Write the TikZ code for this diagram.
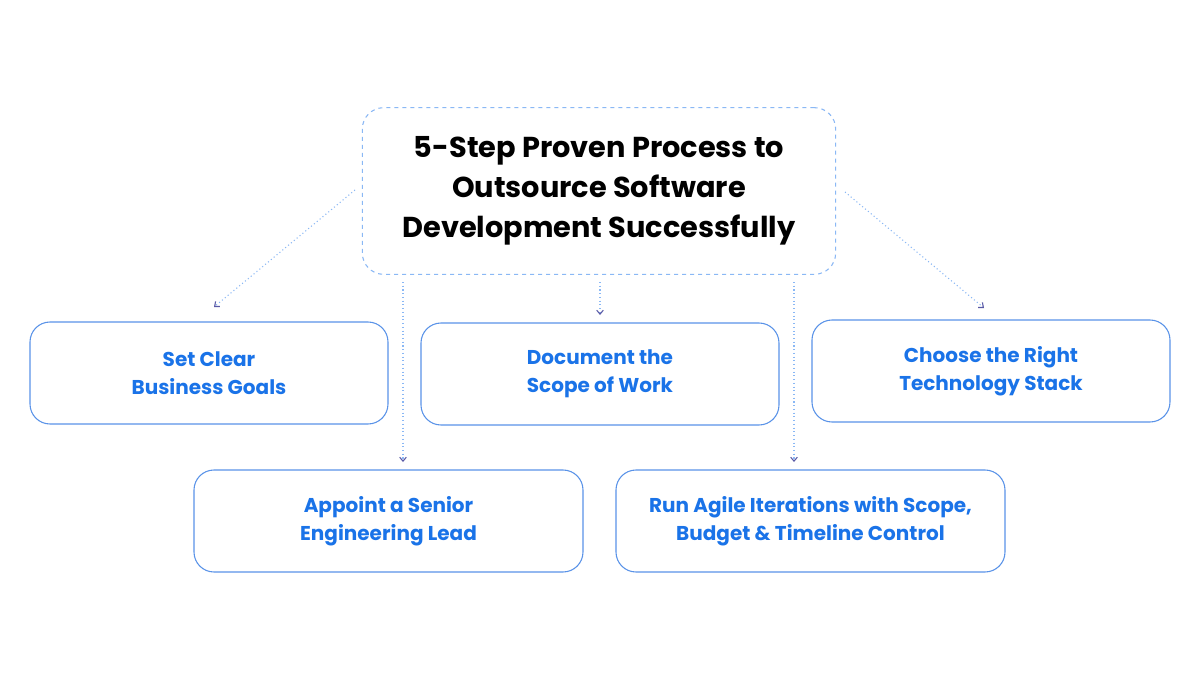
\documentclass[tikz,border=0pt]{standalone}
\usepackage{fontspec}
\setmainfont{Poppins}
\usetikzlibrary{arrows.meta}
\definecolor{tblue}{HTML}{1A73E8}
\definecolor{lblue}{HTML}{8AB8F5}
\definecolor{dblue}{HTML}{5A93E8}
\begin{document}
\begin{tikzpicture}[x=0.75pt,y=-0.75pt,
  stepbox/.style={draw=dblue,line width=0.8pt,rounded corners=15pt,minimum width=268.5pt,minimum height=76.5pt,align=center,text=tblue,font=\bfseries\fontsize{15}{21}\selectfont},
  conn/.style={draw=lblue,dotted,line width=0.8pt,arrows={-{Straight Barb[length=3pt,width=5pt,color=gray!70!blue]}}}]
\useasboundingbox[fill=white] (0,0) rectangle (1200,675);
\node[draw=lblue,dashed,line width=0.8pt,rounded corners=16pt,minimum width=355pt,minimum height=125pt,align=center,font=\bfseries\fontsize{21.6}{30}\selectfont] (title) at (599,191) {5-Step Proven Process to\\Outsource Software\\Development Successfully};
\node[stepbox] (s1) at (209,373) {Set Clear\\Business Goals};
\node[stepbox] (s2) at (600,374) {Document the\\Scope of Work};
\node[stepbox] (s3) at (991,371) {Choose the Right\\Technology Stack};
\node[stepbox,minimum width=291.75pt] (s4) at (388.5,521) {Appoint a Senior\\Engineering Lead};
\node[stepbox,minimum width=291.75pt] (s5) at (810.5,521) {Run Agile Iterations with Scope,\\Budget \& Timeline Control};
\coordinate (a1) at (355,190); \coordinate (e1) at (214,307);
\coordinate (a2) at (403,282); \coordinate (e2) at (403,462);
\coordinate (a3) at (600,282); \coordinate (e3) at (600,315);
\coordinate (a4) at (794,282); \coordinate (e4) at (794,462);
\coordinate (a5) at (845,192); \coordinate (e5) at (984,308);
\foreach \i in {1,...,5} {\draw[conn] (a\i) -- (e\i);}
\end{tikzpicture}
\end{document}
